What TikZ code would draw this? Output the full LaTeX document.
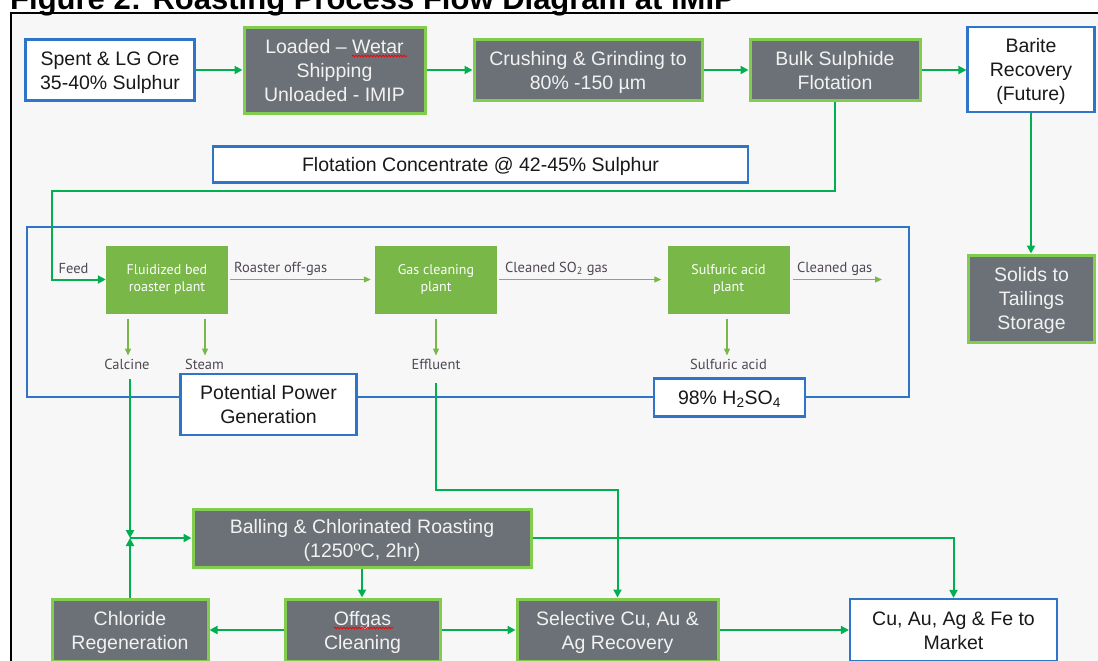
\documentclass[tikz,border=0pt]{standalone}
\usepackage{fontspec}
\setmainfont{Liberation Sans}
\newfontfamily\dinfont{PT Sans}
\usetikzlibrary{arrows.meta,calc,decorations.pathmorphing}
\definecolor{boxgray}{RGB}{108,113,119}
\definecolor{boxgreen}{RGB}{130,205,80}
\definecolor{boxtext}{RGB}{242,242,242}
\definecolor{boxblue}{RGB}{46,117,200}
\definecolor{arrgreen}{RGB}{0,176,80}
\definecolor{plantgreen}{RGB}{120,183,72}
\definecolor{lblcolor}{RGB}{80,72,85}
\definecolor{bgcol}{RGB}{247,247,247}
\newcommand\mainsz{\fontsize{19.5}{24}\selectfont}
\newcommand\bs{\rule{0pt}{19pt}}
\newcommand\es{\rule[-5pt]{0pt}{5pt}}
\begin{document}
\begin{tikzpicture}[x=1pt,y=-1pt,
  graybox/.style={draw=boxgreen, fill=boxgray, line width=3, text=boxtext, align=center, inner sep=0, font=\mainsz},
  bluebox/.style={draw=boxblue, fill=white, line width=2.2, text=black!90, align=center, inner sep=0, font=\mainsz},
  plant/.style={fill=plantgreen, text=white, align=center, inner sep=0, minimum width=122, minimum height=68, font=\dinfont\fontsize{14}{17}\selectfont},
  lbl/.style={text=lblcolor, font=\dinfont\fontsize{14.5}{16}\selectfont, inner sep=0},
  arr/.style={draw=arrgreen, line width=2, -{Triangle[width=8,length=8]}},
  thinarr/.style={draw=plantgreen, line width=1.2, -{Triangle[width=6,length=7]}},
  squiggle/.style={draw=red, line width=0.8, decorate, decoration={snake, segment length=3, amplitude=0.9}}]
\useasboundingbox (0,0) rectangle (1098,661);
\clip (0,0) rectangle (1098,661);
\fill[white] (0,0) rectangle (1098,661);
\fill[bgcol] (11,13.5) rectangle (1110,680);
\node[anchor=base west, font=\fontsize{31}{36}\selectfont\bfseries, inner sep=0] (title) at (10,9.5) {Figure 2: Roasting Process Flow Diagram at IMIP};
\draw[black,line width=2] (11,680) -- (11,13.5) -- (1110,13.5);

% top row
\node[bluebox, minimum width=169, minimum height=61] (spent) at (110,70) {\bs Spent \& LG Ore\\35-40\% Sulphur\es};
\node[graybox, minimum width=181, minimum height=86] (loaded) at (334.5,70.5) {\bs Loaded – Wetar\\Shipping\\Unloaded - IMIP\es};
\node[graybox, minimum width=228, minimum height=61] (crush) at (588,70) {\bs Crushing \& Grinding to\\80\% -150 µm\es};
\node[graybox, minimum width=170, minimum height=61] (bulk) at (835,70) {\bs Bulk Sulphide\\Flotation\es};
\node[bluebox, minimum width=127, minimum height=85] (barite) at (1031,69.5) {\bs Barite\\Recovery\\(Future)\es};
\node[bluebox, minimum width=535, minimum height=36] (conc) at (480.5,164.5) {\bs Flotation Concentrate @ 42-45\% Sulphur\es};
\node[graybox, minimum width=126, minimum height=87] (solids) at (1031.5,298.5) {\bs Solids to\\Tailings\\Storage\es};
\coordinate (wetarA) at (352,56);
\coordinate (wetarB) at (407,56);
\draw[squiggle] (wetarA) -- (wetarB);

\draw[arr] (spent.east) -- (spent.east -| loaded.west);
\draw[arr] (loaded.east |- crush.west) -- (crush.west);
\draw[arr] (crush.east) -- (bulk.west);
\draw[arr] (bulk.east) -- (bulk.east -| barite.west);
\draw[arr] (barite.south) -- (barite.south |- solids.north);

% roasting plant area
\node[draw=boxblue, line width=2.2, minimum width=882, minimum height=170, inner sep=0] (plantarea) at (468,312) {};
\node[plant] (fbr) at (167,279.5) {Fluidized bed\\roaster plant};
\node[plant] (gcp) at (436,279.5) {Gas cleaning\\plant};
\node[plant] (sap) at (728.5,279.5) {Sulfuric acid\\plant};

\node[lbl] (feed) at (73.5,268.5) {Feed};
\node[lbl, anchor=west] (offlbl) at (234,268.5) {Roaster off-gas};
\node[lbl, anchor=west] (so2lbl) at (505,268.5) {Cleaned SO\textsubscript{2} gas};
\node[lbl, anchor=west] (cgas) at (797,268.5) {Cleaned gas};
\node[lbl] (calcine) at (127,364) {Calcine};
\node[lbl] (steam) at (204.5,364) {Steam};
\node[lbl] (effluent) at (436,364) {Effluent};
\node[lbl] (sacid) at (728.5,364) {Sulfuric acid};
\coordinate (cgend) at (882,279.5);

\draw[thinarr] ([xshift=2]fbr.east) -- ([xshift=-4]gcp.west);
\draw[thinarr] ([xshift=2]gcp.east) -- ([xshift=-6]sap.west);
\draw[thinarr] ([xshift=3]sap.east) -- (cgend);
\draw[thinarr] ($(fbr.south -| 128,0)+(0,5)$) -- ($(calcine.north -| 128,0)+(0,-3)$);
\draw[thinarr] ($(fbr.south -| 205,0)+(0,5)$) -- ($(steam.north -| 205,0)+(0,-3)$);
\draw[thinarr] ($(gcp.south)+(0,5)$) -- ($(effluent.north)+(0,-3)$);
\draw[thinarr] ($(sap.south -| 727,0)+(0,5)$) -- ($(sacid.north -| 727,0)+(0,-3)$);

\node[bluebox, minimum width=176, minimum height=61] (power) at (268.5,404.5) {\bs Potential Power\\Generation\es};
\node[bluebox, minimum width=151, minimum height=38] (h2so4) at (729.5,397.5) {\bs 98\% H\textsubscript{2}SO\textsubscript{4}\es};

\coordinate (feedturn) at (52,190.5);
\draw[arr] (bulk.south) |- (feedturn) |- (fbr.west);

% lower part
\node[graybox, minimum width=338, minimum height=58] (balling) at (362,538) {\bs Balling \& Chlorinated Roasting\\(1250ºC, 2hr)\es};
\node[graybox, minimum width=156, minimum height=62] (chlor) at (130,630) {\bs Chloride\\Regeneration\es};
\node[graybox, minimum width=155, minimum height=62] (offgas) at (362.5,630) {\bs Offgas\\Cleaning\es};
\node[graybox, minimum width=201, minimum height=62] (select) at (617.5,630) {\bs Selective Cu, Au \&\\Ag Recovery\es};
\node[bluebox, minimum width=207, minimum height=62] (market) at (953.5,630) {\bs Cu, Au, Ag \& Fe to\\Market\es};
\coordinate (offgasA) at (334,628);
\coordinate (offgasB) at (393,628);
\draw[squiggle] (offgasA) -- (offgasB);

\coordinate (junc) at (130,538);
\coordinate (effturn) at (436,490);
\draw[arr] ($(calcine.south -| junc)+(0,10)$) -- (junc);
\draw[arr] (chlor.north) -- (junc);
\draw[arr] (junc) -- (junc -| balling.west);
\draw[arr] (balling.south) -- (balling.south |- offgas.north);
\draw[arr] (offgas.west) -- (chlor.east);
\draw[arr] (offgas.east) -- (select.west);
\draw[arr] (select.east) -- (market.west);
\draw[arr] (balling.east) -| (market.north);
\draw[arr] ($(effluent.south)+(0,14)$) -- (effturn) -| (select.north);
\end{tikzpicture}
\end{document}
